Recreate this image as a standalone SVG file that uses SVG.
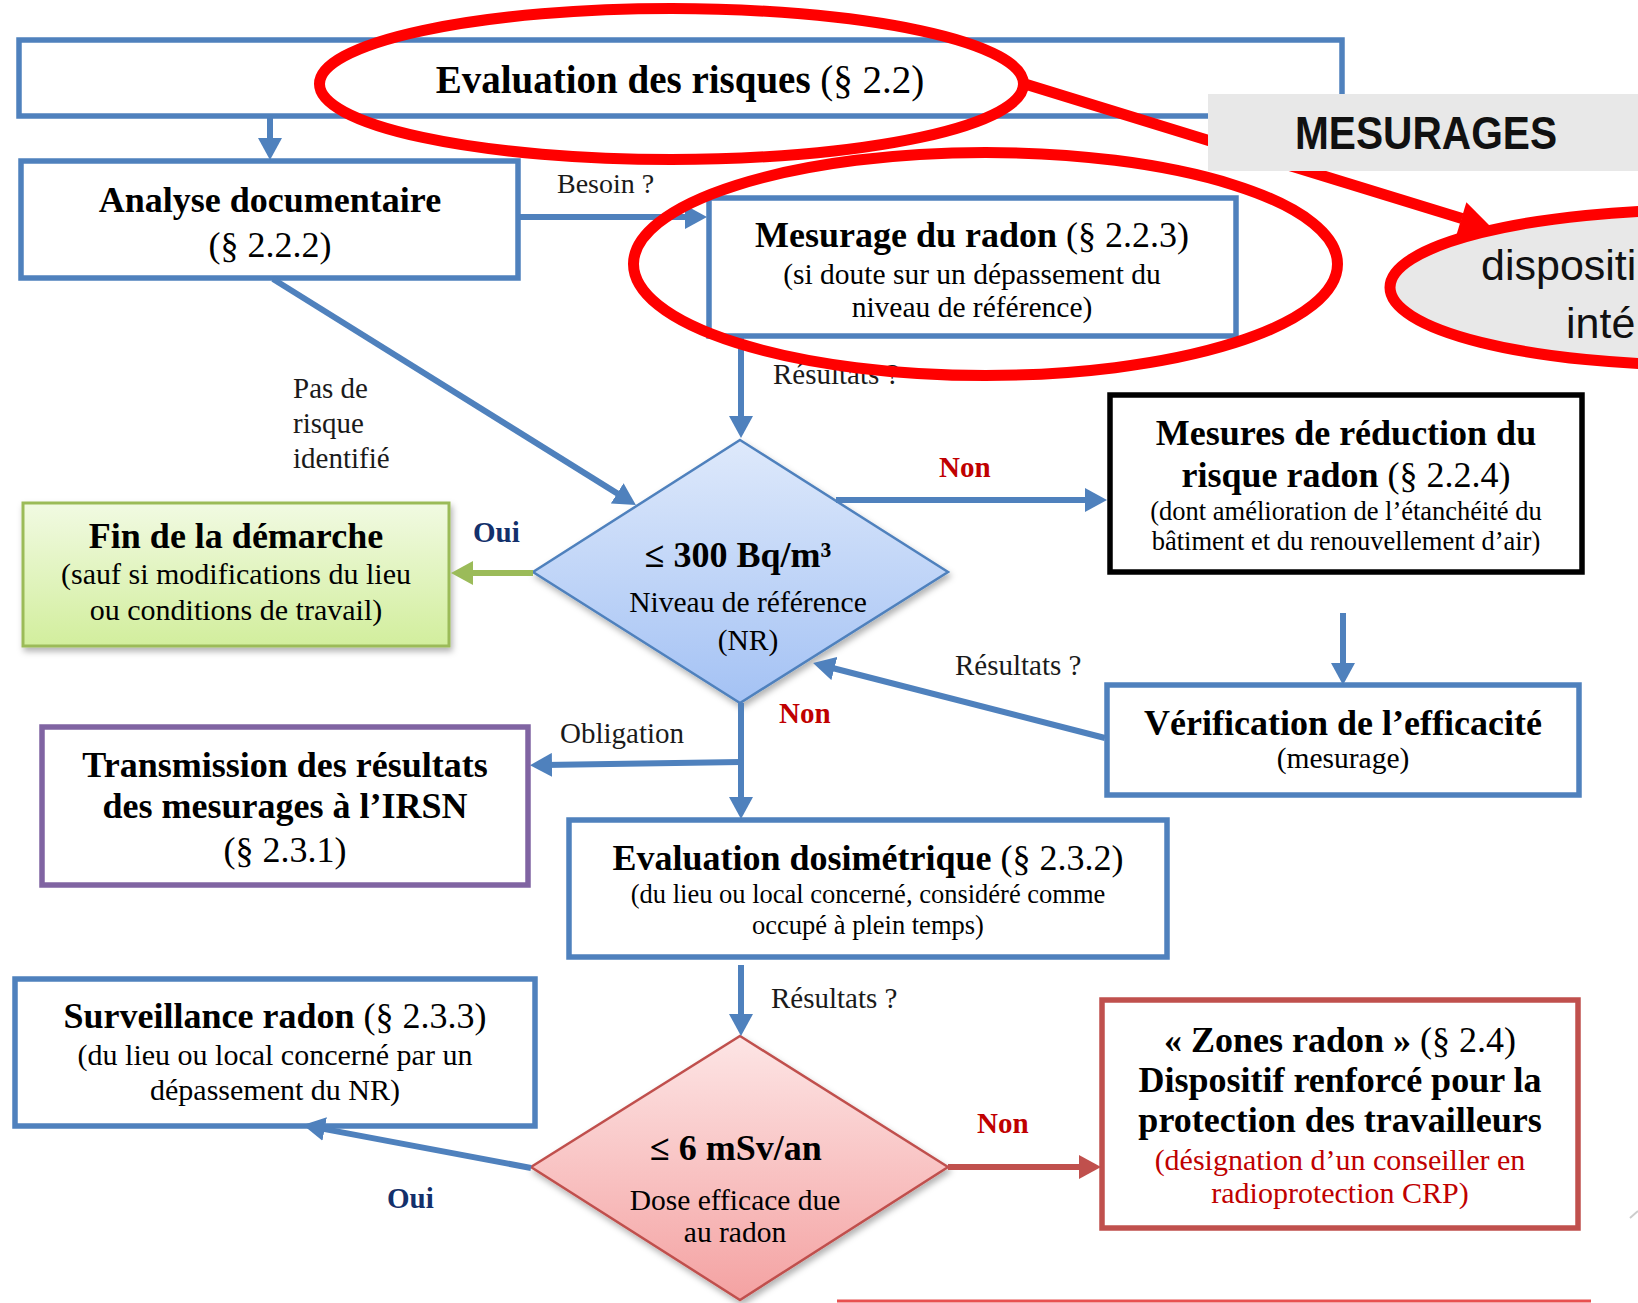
<svg xmlns="http://www.w3.org/2000/svg" width="1638" height="1303" viewBox="0 0 1638 1303">
<style>
text{font-family:"Liberation Serif","Times New Roman",serif;fill:#000}
.b{font-weight:bold}
.r{font-weight:normal}
.t36{font-size:36px}
.t30{font-size:30px}
.t29{font-size:29px}
.t27{font-size:26.5px}
.c{text-anchor:middle}
.lbl{font-size:29px;fill:#1a1a1a}
.non{font-size:29px;font-weight:bold;fill:#C00000}
.oui{font-size:29px;font-weight:bold;fill:#13306B}
.box{fill:#fff;stroke:#4F81BD;stroke-width:5.5}
.conn{fill:none;stroke:#4F81BD;stroke-width:6}
.redann{fill:none;stroke:#FF0000;stroke-width:11}
.sans{font-family:"Liberation Sans",Arial,sans-serif}
</style>
<defs>
<marker id="ab" markerUnits="userSpaceOnUse" markerWidth="22" markerHeight="24" viewBox="0 0 22 24" refX="8" refY="12" orient="auto"><path d="M0,0 L22,12 L0,24 z" fill="#4F81BD"/></marker>
<marker id="ag" markerUnits="userSpaceOnUse" markerWidth="22" markerHeight="24" viewBox="0 0 22 24" refX="8" refY="12" orient="auto"><path d="M0,0 L22,12 L0,24 z" fill="#9BBB59"/></marker>
<marker id="ar" markerUnits="userSpaceOnUse" markerWidth="22" markerHeight="24" viewBox="0 0 22 24" refX="8" refY="12" orient="auto"><path d="M0,0 L22,12 L0,24 z" fill="#C0504D"/></marker>
<linearGradient id="gBlue" x1="0" y1="0" x2="0" y2="1"><stop offset="0" stop-color="#DEE9FB"/><stop offset="1" stop-color="#A4C2F4"/></linearGradient>
<linearGradient id="gRed" x1="0" y1="0" x2="0" y2="1"><stop offset="0" stop-color="#FDE5E5"/><stop offset="1" stop-color="#F4A2A2"/></linearGradient>
<linearGradient id="gGreen" x1="0" y1="0" x2="0" y2="1"><stop offset="0" stop-color="#F1FAE2"/><stop offset="1" stop-color="#D2EE9D"/></linearGradient>
<filter id="sh" x="-10%" y="-10%" width="125%" height="130%"><feDropShadow dx="2" dy="4" stdDeviation="3" flood-color="#000" flood-opacity="0.3"/></filter>
</defs>
<rect width="1638" height="1303" fill="#fff"/>

<g id="node-evaluation-risques">
<rect class="box" x="19" y="40" width="1323" height="76"/>
<text class="c" x="680" y="93" style="font-size:39px"><tspan class="b">Evaluation des risques</tspan><tspan class="r"> (§ 2.2)</tspan></text>
</g>

<g id="node-analyse">
<rect class="box" x="21" y="161" width="497" height="117"/>
<text class="c t36 b" x="270" y="212">Analyse documentaire</text>
<text class="c t36" x="270" y="257">(§ 2.2.2)</text>
</g>

<g id="node-mesurage">
<rect class="box" x="709" y="198" width="527" height="138"/>
<text class="c t36" x="972" y="247"><tspan class="b">Mesurage du radon</tspan><tspan class="r"> (§ 2.2.3)</tspan></text>
<text class="c" x="972" y="284" style="font-size:29.5px">(si doute sur un dépassement du</text>
<text class="c" x="972" y="317" style="font-size:29.5px">niveau de référence)</text>
</g>

<g id="node-diamond-nr">
<polygon points="740,440 948,572 740,703 533,572" fill="url(#gBlue)" stroke="#4F81BD" stroke-width="2.5" filter="url(#sh)"/>
<text class="c t36 b" x="738" y="567">≤ 300 Bq/m³</text>
<text class="c" x="748" y="612" style="font-size:29.5px">Niveau de référence</text>
<text class="c" x="748" y="650" style="font-size:29.5px">(NR)</text>
</g>

<g id="node-fin">
<rect x="23" y="503" width="426" height="143" fill="url(#gGreen)" stroke="#9BBB59" stroke-width="3" filter="url(#sh)"/>
<text class="c t36 b" x="236" y="548">Fin de la démarche</text>
<text class="c t30" x="236" y="584">(sauf si modifications du lieu</text>
<text class="c t30" x="236" y="620">ou conditions de travail)</text>
</g>

<g id="node-mesures-reduction">
<rect x="1110" y="395" width="472" height="177" fill="#fff" stroke="#000" stroke-width="5.5"/>
<text class="c t36 b" x="1346" y="445">Mesures de réduction du</text>
<text class="c t36" x="1346" y="487"><tspan class="b">risque radon</tspan><tspan class="r"> (§ 2.2.4)</tspan></text>
<text class="c t27" x="1346" y="520">(dont amélioration de l’étanchéité du</text>
<text class="c t27" x="1346" y="550">bâtiment et du renouvellement d’air)</text>
</g>

<g id="node-verification">
<rect class="box" x="1107" y="685" width="472" height="110"/>
<text class="c t36 b" x="1343" y="735">Vérification de l’efficacité</text>
<text class="c" x="1343" y="768" style="font-size:29.5px">(mesurage)</text>
</g>

<g id="node-transmission">
<rect x="42" y="727" width="486" height="158" fill="#fff" stroke="#8064A2" stroke-width="5.5"/>
<text class="c t36 b" x="285" y="777">Transmission des résultats</text>
<text class="c t36 b" x="285" y="818">des mesurages à l’IRSN</text>
<text class="c t36" x="285" y="862">(§ 2.3.1)</text>
</g>

<g id="node-evaluation-dosimetrique">
<rect class="box" x="569" y="820" width="598" height="137"/>
<text class="c t36" x="868" y="870"><tspan class="b">Evaluation dosimétrique</tspan><tspan class="r"> (§ 2.3.2)</tspan></text>
<text class="c t27" x="868" y="903">(du lieu ou local concerné, considéré comme</text>
<text class="c t27" x="868" y="934">occupé à plein temps)</text>
</g>

<g id="node-surveillance">
<rect class="box" x="15" y="979" width="520" height="147"/>
<text class="c t36" x="275" y="1028"><tspan class="b">Surveillance radon</tspan><tspan class="r"> (§ 2.3.3)</tspan></text>
<text class="c t30" x="275" y="1065">(du lieu ou local concerné par un</text>
<text class="c t30" x="275" y="1100">dépassement du NR)</text>
</g>

<g id="node-diamond-dose">
<polygon points="740,1036 948,1167 740,1300 531,1167" fill="url(#gRed)" stroke="#C0504D" stroke-width="2.5" filter="url(#sh)"/>
<text class="c t36 b" x="736" y="1160">≤ 6 mSv/an</text>
<text class="c" x="735" y="1210" style="font-size:29.5px">Dose efficace due</text>
<text class="c" x="735" y="1242" style="font-size:29.5px">au radon</text>
</g>

<g id="node-zones-radon">
<rect x="1102" y="1000" width="476" height="228" fill="#fff" stroke="#C0504D" stroke-width="5.5"/>
<text class="c t36" x="1340" y="1052"><tspan class="b">« Zones radon »</tspan><tspan class="r"> (§ 2.4)</tspan></text>
<text class="c t36 b" x="1340" y="1092">Dispositif renforcé pour la</text>
<text class="c t36 b" x="1340" y="1132">protection des travailleurs</text>
<text class="c t30" x="1340" y="1170" style="fill:#C00000">(désignation d’un conseiller en</text>
<text class="c t30" x="1340" y="1203" style="fill:#C00000">radioprotection CRP)</text>
</g>

<g id="connectors">
<line class="conn" x1="270" y1="116" x2="270" y2="146" marker-end="url(#ab)"/>
<line class="conn" x1="519" y1="217" x2="693" y2="217" marker-end="url(#ab)"/>
<line class="conn" x1="741" y1="336" x2="741" y2="424" marker-end="url(#ab)"/>
<line class="conn" x1="273" y1="279" x2="624" y2="497.6" marker-end="url(#ab)"/>
<line class="conn" x1="533" y1="573" x2="465" y2="573" style="stroke:#9BBB59" marker-end="url(#ag)"/>
<line class="conn" x1="836" y1="500" x2="1093" y2="500" marker-end="url(#ab)"/>
<line class="conn" x1="1343" y1="613" x2="1343" y2="671" marker-end="url(#ab)"/>
<line class="conn" x1="1105" y1="738" x2="826.6" y2="666.5" marker-end="url(#ab)"/>
<line class="conn" x1="741" y1="703" x2="741" y2="805" marker-end="url(#ab)"/>
<line class="conn" x1="741" y1="762" x2="544" y2="765" marker-end="url(#ab)"/>
<line class="conn" x1="741" y1="965" x2="741" y2="1022" marker-end="url(#ab)"/>
<line class="conn" x1="531" y1="1168" x2="316.8" y2="1127.6" marker-end="url(#ab)"/>
<line class="conn" x1="948" y1="1167" x2="1087" y2="1167" style="stroke:#C0504D" marker-end="url(#ar)"/>
</g>

<g id="labels">
<text class="lbl" x="557" y="193" style="font-size:28px">Besoin ?</text>
<text class="lbl" x="773" y="384">Résultats ?</text>
<text class="lbl" x="293" y="398">Pas de</text>
<text class="lbl" x="293" y="433">risque</text>
<text class="lbl" x="293" y="468">identifié</text>
<text class="oui" x="473" y="542">Oui</text>
<text class="non" x="939" y="477">Non</text>
<text class="lbl" x="955" y="675">Résultats ?</text>
<text class="non" x="779" y="723">Non</text>
<text class="lbl" x="560" y="743">Obligation</text>
<text class="lbl" x="771" y="1008">Résultats ?</text>
<text class="oui" x="387" y="1208">Oui</text>
<text class="non" x="977" y="1133">Non</text>
</g>

<g id="annotations">
<ellipse class="redann" cx="671.5" cy="84" rx="352" ry="75.5"/>
<ellipse class="redann" cx="985.5" cy="264" rx="352" ry="111.5"/>
<line x1="1025" y1="84" x2="1462" y2="218.6" stroke="#FF0000" stroke-width="11"/>
<polygon points="1492,228 1456.4,234.9 1466.4,202.3" fill="#FF0000"/>
<g id="node-mesurages">
<rect x="1208" y="94" width="430" height="77" fill="#E8E8E8"/>
<text class="sans" x="1295" y="149" style="font-size:46px;font-weight:bold;fill:#111" textLength="262" lengthAdjust="spacingAndGlyphs">MESURAGES</text>
</g>
<g id="node-dispositif">
<ellipse cx="1700" cy="287.5" rx="310" ry="77.5" fill="#E8E8E8" stroke="#FF0000" stroke-width="11"/>
<text class="sans" x="1481" y="280" style="font-size:43px;fill:#111">dispositi</text>
<text class="sans" x="1566" y="338" style="font-size:43px;fill:#111">inté</text>
</g>
<line x1="837" y1="1301" x2="1591" y2="1301" stroke="#E85050" stroke-width="3"/>
<path d="M1630,1218 L1638,1211" stroke="#cccccc" stroke-width="2" fill="none"/>
</g>
</svg>
